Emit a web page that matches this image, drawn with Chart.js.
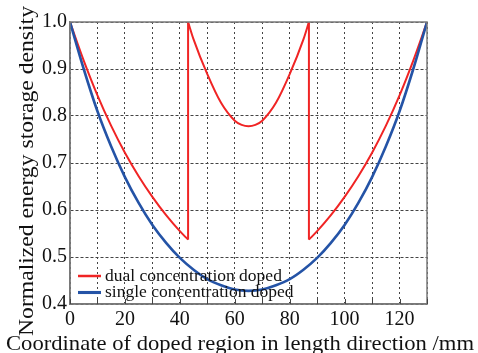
<!DOCTYPE html>
<html>
<head>
<meta charset="utf-8">
<script src="https://cdn.jsdelivr.net/npm/chart.js@4.4.0/dist/chart.umd.min.js"></script>
<style>
  html, body { margin: 0; padding: 0; background: #fff; }
</style>
</head>
<body>
<canvas id="energyChart" width="478" height="353"></canvas>
<script>
// single concentration doped
const singleX = [0, 5, 10, 15, 20, 25, 30, 35, 40, 45, 50, 55, 60, 65, 70, 75, 80, 85, 90, 95, 100, 105, 110, 115, 120, 125, 130];
const singleDensity = [1.0, 0.900, 0.810, 0.735, 0.670, 0.615, 0.568, 0.530, 0.498, 0.473, 0.453, 0.440, 0.431, 0.428,
  0.431, 0.440, 0.453, 0.473, 0.498, 0.530, 0.568, 0.615, 0.670, 0.735, 0.810, 0.900, 1.0];

// dual concentration doped, three pieces between the jumps
const dualLeftX = [0, 5, 10, 15, 20, 25, 30, 35, 40, 43];
const dualLeft = [1.0, 0.918, 0.844, 0.779, 0.722, 0.672, 0.628, 0.589, 0.555, 0.537];
const dualMidX = [43, 45, 50, 55, 60, 62.5, 65, 67.5, 70, 75, 80, 85, 87];
const dualMid = [1.0, 0.963, 0.889, 0.828, 0.790, 0.781, 0.778, 0.781, 0.790, 0.828, 0.889, 0.963, 1.0];
const dualRightX = [87, 90, 95, 100, 105, 110, 115, 120, 125, 130];
const dualRight = [0.537, 0.555, 0.589, 0.628, 0.672, 0.722, 0.779, 0.844, 0.918, 1.0];

const xLabelStep = 20;
const xTitle = 'Coordinate of doped region in length direction /mm';
const yTitle = 'Normalized energy storage density';

const RED = '#f02424';
const BLUE = '#2453a6';
const SERIF = '"Liberation Serif", "DejaVu Serif", serif';

function toPoints(xs, ys) {
  return xs.map((x, i) => ({ x: x, y: ys[i] }));
}

function redLine(points, label) {
  return {
    label: label, data: points, borderColor: RED, borderWidth: 2,
    pointRadius: 0, cubicInterpolationMode: 'monotone', fill: false, inLegend: !!label
  };
}

const datasets = [
  {
    label: 'single concentration doped', data: toPoints(singleX, singleDensity),
    borderColor: BLUE, borderWidth: 2.6, pointRadius: 0, cubicInterpolationMode: 'monotone', fill: false, inLegend: true
  },
  redLine(toPoints(dualLeftX, dualLeft), 'dual concentration doped'),
  redLine([{ x: dualLeftX[dualLeftX.length - 1], y: dualLeft[dualLeft.length - 1] }, { x: dualMidX[0], y: dualMid[0] }], ''),
  redLine(toPoints(dualMidX, dualMid), ''),
  redLine([{ x: dualMidX[dualMidX.length - 1], y: dualMid[dualMid.length - 1] }, { x: dualRightX[0], y: dualRight[0] }], ''),
  redLine(toPoints(dualRightX, dualRight), '')
];

// text squeezed/stretched to a given width, like the original serif face
function fitText(ctx, text, cx, cy, width) {
  const k = width / ctx.measureText(text).width;
  ctx.save();
  ctx.translate(cx, cy);
  ctx.scale(k, 1);
  ctx.fillText(text, 0, 0);
  ctx.restore();
}

// frame, inner ticks, axis titles and the in-plot legend
const decorations = {
  id: 'decorations',
  afterDatasetsDraw(chart) {
    const ctx = chart.ctx;
    const a = chart.chartArea;
    const xs = chart.scales.x;
    ctx.save();
    ctx.strokeStyle = '#7a7a7a';
    ctx.lineWidth = 1.5;
    ctx.strokeRect(a.left, a.top, a.right - a.left, a.bottom - a.top);
    ctx.strokeStyle = '#444';
    ctx.lineWidth = 1;
    xs.ticks.forEach(t => {
      const px = Math.round(xs.getPixelForValue(t.value)) + 0.5;
      ctx.beginPath();
      ctx.moveTo(px, a.bottom);
      ctx.lineTo(px, a.bottom - 5);
      ctx.stroke();
    });

    // legend
    const shown = chart.data.datasets.filter(d => d.inLegend);
    const order = [shown.find(d => d.borderColor === RED), shown.find(d => d.borderColor === BLUE)];
    ctx.font = '17.5px ' + SERIF;
    ctx.fillStyle = '#111';
    ctx.textBaseline = 'middle';
    order.forEach((d, i) => {
      const y = 276 + i * 16.5;
      ctx.strokeStyle = d.borderColor;
      ctx.lineWidth = d.borderWidth + 0.5;
      ctx.beginPath();
      ctx.moveTo(a.left + 8, y);
      ctx.lineTo(a.left + 31, y);
      ctx.stroke();
      ctx.fillText(d.label, a.left + 35, y);
    });

    // axis titles
    ctx.font = '21px ' + SERIF;
    ctx.textAlign = 'center';
    ctx.textBaseline = 'alphabetic';
    fitText(ctx, xTitle, 240, 350, 468);
    ctx.translate(33, 171);
    ctx.rotate(-Math.PI / 2);
    fitText(ctx, yTitle, 0, 0, 330);
    ctx.restore();
  }
};

new Chart(document.getElementById('energyChart'), {
  type: 'line',
  data: { datasets: datasets },
  options: {
    responsive: false,
    animation: false,
    devicePixelRatio: 1,
    layout: { padding: { left: 0, top: 22, right: 51, bottom: 0 } },
    plugins: { legend: { display: false }, tooltip: { enabled: false } },
    scales: {
      x: {
        type: 'linear', min: 0, max: 130,
        afterFit: s => { s.height = 49; },
        ticks: {
          stepSize: 10, padding: 4, color: '#111', font: { family: SERIF, size: 20 },
          maxRotation: 0, minRotation: 0, autoSkip: false,
          callback: v => (v % xLabelStep === 0 ? v : '')
        },
        grid: { color: '#444', lineWidth: 1, drawTicks: false },
        border: { color: '#7a7a7a', width: 1.5, dash: [2, 3] }
      },
      y: {
        type: 'linear', min: 0.4, max: 1.0,
        afterFit: s => { s.width = 70; },
        ticks: {
          stepSize: 0.1, padding: 3, color: '#111', font: { family: SERIF, size: 20 },
          callback: v => Number(v).toFixed(1)
        },
        grid: { color: '#444', lineWidth: 1, drawTicks: false },
        border: { color: '#7a7a7a', width: 1.5, dash: [3, 2] }
      }
    }
  },
  plugins: [decorations]
});
</script>
</body>
</html>
